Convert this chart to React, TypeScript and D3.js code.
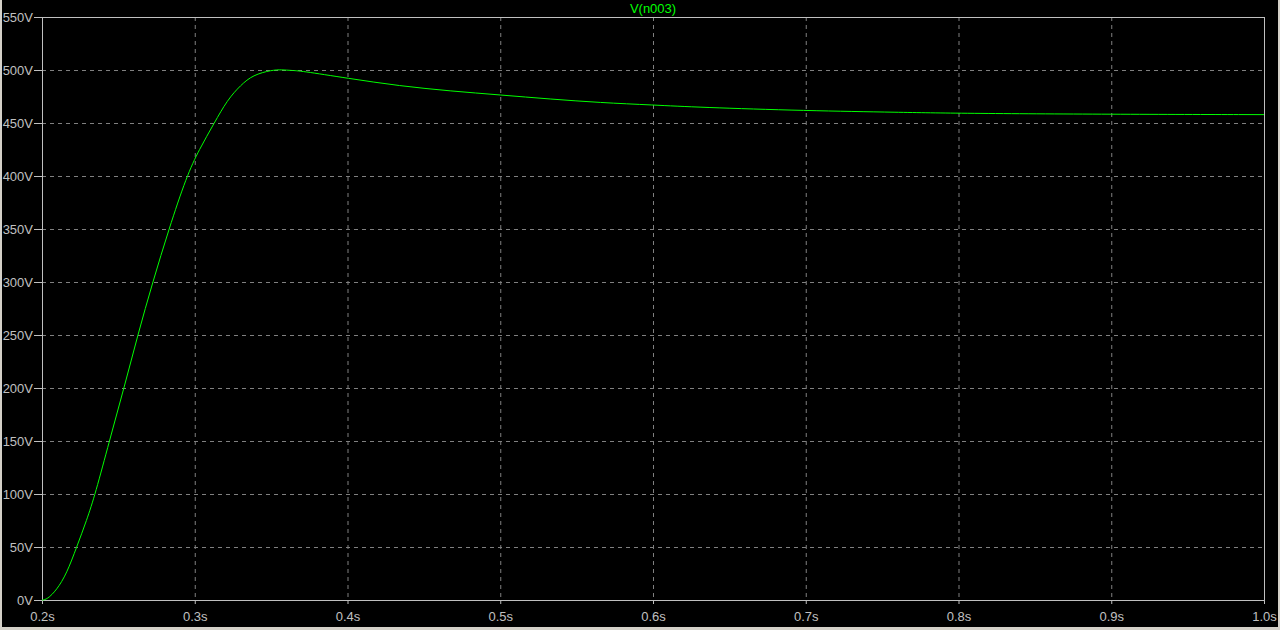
import React from "react";
import * as d3 from "d3";

const timeS = [0.2, 0.2033, 0.2096, 0.2162, 0.2227, 0.2292, 0.2349, 0.2441, 0.2537, 0.2627, 0.2725, 0.2831, 0.2947, 0.3029, 0.3128, 0.3213, 0.3301, 0.3381, 0.3504, 0.357, 0.3635, 0.3689, 0.4, 0.4344, 0.4671, 0.5005, 0.5326, 0.5653, 0.6, 0.6301, 0.7, 0.7617, 0.8, 0.9, 1.0];
const voltage = [0, 0.5, 9.4, 25, 50, 75, 100, 150, 200, 250, 300, 350, 400, 425, 450, 471.7, 485.8, 495.3, 500, 500.3, 499.5, 499.3, 492.2, 484.9, 480.2, 476.4, 472.6, 469.2, 467, 464.8, 461.6, 460.1, 459.1, 458.2, 457.9];
const xTicks = [0.2, 0.3, 0.4, 0.5, 0.6, 0.7, 0.8, 0.9, 1.0];
const yTicks = [0, 50, 100, 150, 200, 250, 300, 350, 400, 450, 500, 550];
const traceName = "V(n003)";

const W = 1280;
const H = 630;
const left = 42;
const right = 1264;
const top = 17;
const bottom = 600;

export default function App() {
  const x = d3.scaleLinear().domain([0.2, 1.0]).range([left, right]);
  const y = d3.scaleLinear().domain([0, 550]).range([bottom, top]);
  const pts = timeS.map((t, i) => [t, voltage[i]] as [number, number]);
  const line = d3
    .line<[number, number]>()
    .x((d) => x(d[0]))
    .y((d) => y(d[1]))
    .curve(d3.curveBasis);
  const font = "'Liberation Sans', Arial, sans-serif";
  const grid = "#808080";
  const axis = "#c0c0c0";
  return (
    <svg
      width={W}
      height={H}
      style={{ position: "absolute", left: 0, top: 0, display: "block" }}
    >
      <rect x={0} y={0} width={W} height={H} fill="#000" />
      <rect x={0} y={0} width={2} height={H} fill="#d4d0c8" />
      <rect x={1278} y={0} width={2} height={H} fill="#d4d0c8" />
      <rect x={0} y={627} width={W} height={3} fill="#d4d0c8" />
      {xTicks.slice(1, -1).map((t) => (
        <line key={"gx" + t} x1={x(t) + 0.5} x2={x(t) + 0.5} y1={top} y2={bottom} stroke={grid} strokeDasharray="4,4" />
      ))}
      {yTicks.slice(1, -1).map((v) => (
        <line key={"gy" + v} x1={left} x2={right} y1={y(v) + 0.5} y2={y(v) + 0.5} stroke={grid} strokeDasharray="4,4" />
      ))}
      <rect x={left + 0.5} y={top + 0.5} width={right - left} height={bottom - top} fill="none" stroke={axis} />
      {yTicks.map((v) => (
        <g key={"ty" + v}>
          <line x1={left - 8} x2={left} y1={y(v) + 0.5} y2={y(v) + 0.5} stroke={axis} />
          <text x={33} y={y(v)} dy="0.35em" textAnchor="end" fill={axis} fontSize={13} fontFamily={font}>
            {v + "V"}
          </text>
        </g>
      ))}
      {xTicks.map((t) => (
        <g key={"tx" + t}>
          <line x1={x(t) + 0.5} x2={x(t) + 0.5} y1={bottom} y2={bottom + 4} stroke={axis} />
          <text x={x(t) + 0.5} y={621} textAnchor="middle" fill={axis} fontSize={13} fontFamily={font}>
            {t.toFixed(1) + "s"}
          </text>
        </g>
      ))}
      <text x={(left + right) / 2} y={13} textAnchor="middle" fill="#00ff00" fontSize={13} fontFamily={font}>
        {traceName}
      </text>
      <path d={line(pts) || ""} fill="none" stroke="#00ff00" strokeWidth={1} />
    </svg>
  );
}
